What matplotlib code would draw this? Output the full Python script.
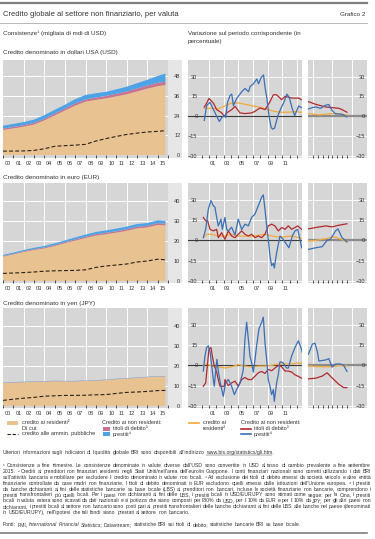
import numpy as np
import matplotlib
matplotlib.use("Agg")
import matplotlib.pyplot as plt
from matplotlib.patches import Rectangle
from matplotlib.lines import Line2D

plt.rcParams['font.family'] = ['Liberation Sans', 'DejaVu Sans']

W, H = 375, 539

GREY = '#d6d6d6'
STRIP = '#e6e6e6'
TAN = '#e8c391'
PINK = '#c8738f'
LBLUE = '#4da3e6'
ORANGE = '#f2a93b'
RED = '#b22a2e'
DBLUE = '#3b6fb6'
TEXT = '#333333'

# ---- stocks (thousand bn USD), year-end readings, last point 2015 Q3
stock_t = [2000, 2001, 2002, 2003, 2004, 2005, 2006, 2007, 2008, 2009,
           2010, 2011, 2012, 2013, 2014, 2015, 2015.75]
year_labels = ['00', '01', '02', '03', '04', '05', '06', '07', '08', '09',
               '10', '11', '12', '13', '14', '15']

usd_res = [15.2, 16.2, 17.2, 18.5, 21.0, 24.0, 27.0, 30.0, 32.4, 33.5, 34.4, 35.6, 36.9, 38.6, 40.3, 41.8, 42.5]
usd_debt = [0.8, 0.9, 0.9, 1.0, 1.0, 1.1, 1.2, 1.3, 1.3, 1.4, 1.5, 1.6, 1.7, 1.8, 1.9, 2.0, 2.0]
usd_loans = [1.8, 1.8, 1.9, 2.0, 2.2, 2.3, 2.3, 2.6, 2.8, 2.6, 2.5, 2.7, 2.9, 3.2, 3.5, 4.2, 5.0]
usd_gov = [2.4, 2.4, 2.5, 2.8, 3.8, 5.3, 5.7, 6.0, 6.5, 8.5, 10.0, 11.3, 12.5, 13.3, 14.0, 14.4, 14.8]

eur_res = [12.2, 13.3, 14.5, 15.5, 16.3, 17.5, 18.9, 20.2, 21.5, 22.7, 23.4, 24.2, 25.1, 26.3, 26.8, 28.0, 27.8]
eur_debt = [0.3, 0.3, 0.4, 0.4, 0.4, 0.5, 0.5, 0.6, 0.6, 0.7, 0.7, 0.7, 0.8, 0.8, 0.8, 0.9, 0.9]
eur_loans = [0.5, 0.6, 0.6, 0.7, 0.8, 0.8, 0.9, 1.0, 1.1, 1.1, 1.2, 1.3, 1.3, 1.4, 1.4, 1.4, 1.3]
eur_gov = [3.8, 4.0, 4.2, 4.5, 4.9, 5.1, 5.2, 5.3, 5.6, 6.8, 7.5, 8.0, 8.5, 9.5, 10.0, 10.9, 10.6]

jpy_res = [11.4, 11.7, 11.9, 12.1, 12.2, 12.4, 12.3, 12.3, 12.5, 12.7, 13.0, 13.4, 13.7, 14.0, 14.4, 14.7, 14.8]
jpy_debt = [0.1, 0.1, 0.1, 0.1, 0.1, 0.1, 0.1, 0.1, 0.1, 0.1, 0.1, 0.1, 0.1, 0.1, 0.1, 0.1, 0.1]
jpy_loans = [0.15, 0.15, 0.15, 0.15, 0.15, 0.15, 0.15, 0.15, 0.15, 0.15, 0.15, 0.15, 0.15, 0.15, 0.15, 0.15, 0.15]
jpy_gov = [2.8, 3.4, 3.9, 4.3, 4.9, 5.1, 5.3, 5.3, 5.4, 5.6, 5.7, 6.3, 6.8, 7.0, 7.3, 7.7, 7.8]

# ---- growth rates (%), long history 2000-2013
usd_res_t = [2000.36, 2001.36, 2002.27, 2003.41, 2004.11, 2005.02, 2005.93, 2006.82, 2008.19, 2009.1, 2010.0, 2010.91, 2011.82, 2012.73, 2013.6]
usd_res_g = [6, 6, 5.5, 8.5, 10, 10, 9, 8, 6.5, 5, 3.5, 3, 3, 3.5, 3]
usd_debt_t = [2000.36, 2000.68, 2001.0, 2001.59, 2002.05, 2002.74, 2003.1, 2003.41, 2004.11, 2004.56, 2005.23, 2005.93,
              2006.82, 2007.28, 2007.96, 2008.67, 2009.32, 2009.78, 2010.23, 2010.91, 2011.37, 2012.32, 2013.24, 2013.6]
usd_debt_g = [6.9, 9.8, 13.5, 10, 5, 2.5, 0, 2.5, 5, 7.5, 2.5, 2, 2.5, 3.7, 6.2, 5, 11, 16.2, 16.2, 12.5, 15, 13.7, 13.7, 12.5]
usd_loans_t = [2000.36, 2000.68, 2001.14, 2002.05, 2002.42, 2002.74, 2003.1, 2003.28, 2003.51, 2003.88, 2004.11, 2004.33,
               2004.79, 2005.47, 2005.93, 2006.39, 2006.62, 2007.07, 2007.53, 2007.76, 2008.12, 2008.44, 2008.67, 2008.9,
               2009.22, 2009.49, 2009.68, 2009.95, 2010.41, 2010.86, 2011.18, 2011.64, 2011.96, 2012.32, 2012.69, 2013.24, 2013.6]
usd_loans_g = [-3.2, 8, 10.5, 0, -4, -1, 0.5, -1, 10, 15.7, 16.7, 8, 13.5, 18.5, 21, 18.5, 22.5, 24.5, 28.2, 24.5, 29.3,
               31.2, 21, 13.5, -1, -8.6, -9.8, -9, 0.5, 6.5, 10, 16.7, 14, 6.5, 0.5, 7.8, 6.5]

eur_res_t = [2000.23, 2000.68, 2001.36, 2002.27, 2003.18, 2004.09, 2005.0, 2005.91, 2006.82, 2007.73, 2008.64, 2009.55,
             2010.46, 2011.37, 2012.28, 2013.19, 2013.64]
eur_res_g = [2, 4.5, 4.5, 3.2, 3.2, 4.5, 3.2, 3, 3.2, 3.7, 4.5, 3.2, 2.5, 2.7, 3.2, 2, 1.2]
eur_debt_t = [2000.23, 2000.55, 2000.82, 2001.14, 2001.59, 2002.05, 2002.27, 2002.73, 2003.18, 2003.64, 2004.09, 2004.55,
              2005.0, 2005.46, 2005.91, 2006.37, 2006.82, 2007.28, 2007.73, 2008.19, 2008.64, 2009.09, 2009.55, 2010.0,
              2010.46, 2010.91, 2011.37, 2011.82, 2012.28, 2012.73, 2013.1, 2013.64]
eur_debt_g = [17, 14.5, 14.5, 8.2, 7, 8.2, 2, 5.7, 0.7, 7, 3.2, 2, 4.5, 7, 4.5, 3.2, 4.5, 2, 3.2, 2, 4.5, 10.7, 12, 10.7,
              7, 9.5, 8.2, 10.7, 8.2, 9.5, 10.7, 8.2]
eur_loans_t = [2000.23, 2000.55, 2000.91, 2001.27, 2001.59, 2001.82, 2002.05, 2002.27, 2002.64, 2002.82, 2003.18, 2003.41,
               2003.64, 2004.09, 2004.55, 2005.0, 2005.46, 2005.91, 2006.37, 2006.82, 2007.28, 2007.73, 2008.19, 2008.41,
               2008.64, 2008.87, 2009.09, 2009.32, 2009.55, 2009.78, 2009.91, 2010.23, 2010.68, 2011.14, 2011.59, 2011.91,
               2012.36, 2012.73, 2013.1, 2013.41, 2013.64]
eur_loans_g = [2, 8.2, 23, 29.5, 25.7, 24.5, 17, 10.7, 15.7, 8.2, 17, 8.2, 7, 9.7, 4, 15.7, 8, 12, 10.7, 17, 19.5, 25.7,
               32, 33.7, 23, 10.7, 0.7, -11.7, -18.7, -17, -20.5, -9.2, 3.2, 0.7, -3, -5.5, 3.2, 7, 8.2, 0.7, -5.5]

jpy_res_t = [2000.23, 2000.68, 2001.36, 2002.27, 2003.18, 2004.09, 2005.0, 2005.91, 2006.82, 2007.73, 2008.64, 2009.55,
             2010.46, 2011.37, 2012.28, 2013.19, 2013.73]
jpy_res_g = [0, 1, -0.5, -1, -2, -1, 0.5, -0.5, -1.2, -0.5, -0.5, 0, 1, 1, 1, 1.7, 1.7]
jpy_debt_t = [2000.23, 2000.55, 2000.82, 2001.0, 2001.27, 2001.45, 2001.73, 2002.05, 2002.27, 2002.5, 2003.1, 2003.18,
              2003.64, 2004.09, 2004.55, 2005.0, 2005.46, 2005.91, 2006.37, 2006.82, 2007.28, 2007.73, 2008.19, 2008.64,
              2009.09, 2009.55, 2010.0, 2010.46, 2010.91, 2011.37, 2011.82, 2012.28, 2012.73, 2013.19, 2013.64]
jpy_debt_g = [-15.5, -13, 2, 12, 13.2, 7, -0.5, -5, -10.5, -15.5, -15.5, -10.5, -15, -13, -11.7, -15.5, -10.5, -9, -10.5,
              -10.5, -8, -5.5, -4.5, -6, -3, -4, -2, 0, -1, -4.2, -4.2, -5, -7, -8.2, -9.5]
jpy_loans_t = [2000.23, 2000.45, 2000.68, 2000.91, 2001.14, 2001.36, 2001.59, 2001.73, 2001.91, 2002.09, 2002.27, 2002.5,
               2002.95, 2003.27, 2003.64, 2004.09, 2004.46, 2004.77, 2005.23, 2005.55, 2005.68, 2005.91, 2006.14, 2006.37,
               2006.59, 2006.82, 2007.05, 2007.28, 2007.5, 2007.82, 2008.19, 2008.41, 2008.64, 2008.87, 2009.09, 2009.32,
               2009.55, 2009.78, 2009.91, 2010.23, 2010.46, 2010.68, 2010.91, 2011.14, 2011.59, 2011.82, 2012.28, 2012.73,
               2013.19, 2013.55, 2013.73]
jpy_loans_g = [-4.2, 7, 13.2, 14.5, 10.2, 0.7, -10.5, -15.5, -4.2, 4.5, -4.2, -11.7, -23, -13, -10.5, -15.5, -21.7, -18,
               -13, -6.7, -3, 19.5, 32, 19.5, 7, 2, -5, 4.5, 14.5, 27, 32, 35.7, 17, 4.5, -10.5, -15.5, -21.7, -18, -26.7,
               -13, -6.7, 2.5, 2.5, 1.7, -2, -2, 7, 13.2, 18.2, 13.2, 9.5]

# ---- growth rates (%), recent window 2013 Q4 - 2015 Q4
usd_res_rt = [2013.74, 2014.29, 2014.98, 2015.33, 2015.76]
usd_res_rg = [2, 1, 2, 2, 0.8]
usd_debt_rt = [2013.74, 2014.12, 2014.64, 2014.98, 2015.33, 2015.5, 2015.76]
usd_debt_rg = [11, 9, 7, 6.5, 6, 5, 3]
usd_loans_rt = [2013.74, 2013.95, 2014.12, 2014.38, 2014.64, 2014.81, 2014.98, 2015.16, 2015.5, 2015.76]
usd_loans_rg = [5.5, 6.5, 7, 6, 8.3, 8.8, 4.4, 1.8, 1.5, -0.5]

eur_res_rt = [2013.74, 2014.12, 2014.64, 2015.07, 2015.33, 2015.76]
eur_res_rg = [-0.3, 0, 1.2, 2.5, 1.5, -0.8]
eur_debt_rt = [2013.74, 2014.12, 2014.64, 2014.98, 2015.33, 2015.76]
eur_debt_rg = [8.5, 9.5, 10.7, 10, 11.2, 12.3]
eur_loans_rt = [2013.74, 2014.12, 2014.46, 2014.72, 2014.89, 2015.16, 2015.29, 2015.5, 2015.76]
eur_loans_rg = [-6.7, -5.5, -4.7, 0, 0.7, 7, 8.5, 2, -1.2]

jpy_res_rt = [2013.74, 2014.29, 2014.98, 2015.33, 2015.76]
jpy_res_rg = [-0.5, -1, -1, 0, -0.5]
jpy_debt_rt = [2013.74, 2014.12, 2014.46, 2014.72, 2014.89, 2015.07, 2015.33, 2015.59, 2015.76]
jpy_debt_rg = [-10, -9.5, -8, -5.5, -8, -10.5, -14, -16.5, -16.5]
jpy_loans_rt = [2013.74, 2013.95, 2014.08, 2014.21, 2014.29, 2014.64, 2014.81, 2014.98, 2015.16, 2015.41, 2015.59, 2015.76]
jpy_loans_rg = [8.2, 15.7, 16.5, 10.2, 3.2, 4, 5, -1.2, 1, 1, 0, -4.5]

hist_labels = ['01', '03', '05', '07', '09', '11']
recent_labels = ['2014', '2015']

fig = plt.figure(figsize=(W / 100, H / 100), dpi=100)
fig.patch.set_facecolor('white')

TICK = 4.0


def px_axes(x0, y0, x1, y1):
    return fig.add_axes([x0 / W, 1 - y1 / H, (x1 - x0) / W, (y1 - y0) / H])


def fy(y):
    return 1 - y / H


def clean(ax):
    for s in ax.spines.values():
        s.set_visible(False)


def stock_panel(y0, y1, res, debt, loans, gov, ylim, yticks):
    ax = px_axes(3, y0, 168, y1)
    fig.add_artist(Rectangle((168 / W, 1 - y1 / H), 14 / W, (y1 - y0) / H,
                             transform=fig.transFigure, color=STRIP, lw=0, zorder=-1))
    ax.set_facecolor(GREY)
    for g in range(2002, 2016, 2):
        ax.axvline(g, color='white', lw=0.7, zorder=0.5)
    for yt in yticks[1:]:
        ax.axhline(yt, color='white', lw=0.7, zorder=0.5)
    ax.stackplot(stock_t, res, debt, loans, colors=[TAN, PINK, LBLUE], lw=0, zorder=1)
    ax.plot(stock_t, gov, color='#2b2118', lw=0.8, dashes=(3.5, 2), zorder=2)
    ax.set_xlim(2000, 2016)
    ax.set_ylim(*ylim)
    ax.set_xticks(range(2000, 2017))
    ax.set_xticks(np.arange(2000.5, 2016, 1), labels=year_labels, minor=True)
    ax.tick_params(axis='x', which='major', direction='in', length=2.5, width=0.6,
                   color=TEXT, labelbottom=False)
    ax.tick_params(axis='x', which='minor', length=0, pad=2.5, labelsize=TICK, labelcolor=TEXT)
    ax.set_yticks(yticks)
    ax.yaxis.tick_right()
    ax.tick_params(axis='y', length=0, pad=8.8, labelsize=TICK, labelcolor=TEXT)
    for lab in ax.get_yticklabels():
        lab.set_ha('right')
    clean(ax)


def growth_panel(y0, y1, hist, recent):
    a1 = px_axes(188, y0, 302, y1)
    a2 = px_axes(308, y0, 367, y1)
    yt = [-30, -15, 0, 15, 30]
    for ax in (a1, a2):
        ax.set_facecolor(GREY)
        ax.set_ylim(-31.6, 42.5)
        ax.set_yticks(yt)
        for v in (-30, -15, 15, 30):
            ax.axhline(v, color='white', lw=0.6, zorder=0.5)
        clean(ax)
    for g in range(2001, 2014, 2):
        a1.axvline(g, color='white', lw=0.7, zorder=0.5)
    for g in (2014, 2015, 2016):
        a2.axvline(g, color='white', lw=0.7, zorder=0.5)
    a1.axhline(0, color='#3a3a3a', lw=0.8, zorder=1)
    a2.axhline(0, color='#8c8c8c', lw=1.6, zorder=1)
    for t, v, c in hist:
        a1.plot(t, v, color=c, lw=0.9, zorder=2)
    for t, v, c in recent:
        a2.plot(t, v, color=c, lw=0.9, zorder=2)
    a1.set_xlim(1998.14, 2013.69)
    a1.set_xticks(range(2000, 2014))
    a1.set_xticks(np.arange(2001.5, 2012, 2), labels=hist_labels, minor=True)
    a2.set_xlim(2013.72, 2016.81)
    a2.set_xticks(np.arange(2014, 2016, 0.25))
    a2.set_xticks([2014.5, 2015.5], labels=recent_labels, minor=True)
    for ax in (a1, a2):
        ax.tick_params(axis='x', which='major', direction='in', length=2.5, width=0.6,
                       color=TEXT, labelbottom=False)
        ax.tick_params(axis='x', which='minor', length=0, pad=2.5, labelsize=TICK, labelcolor=TEXT)
    a1.tick_params(axis='y', length=0, pad=-6.8, labelsize=TICK, labelcolor=TEXT)
    a2.yaxis.tick_right()
    a2.tick_params(axis='y', length=0, pad=-1.5, labelsize=TICK, labelcolor=TEXT)
    for lab in a2.get_yticklabels():
        lab.set_ha('right')


# ---- header
fig.add_artist(Line2D([0, 367 / W], [fy(3), fy(3)], color='#7f7f7f', lw=1.6))
fig.text(3 / W, fy(14), 'Credito globale al settore non finanziario, per valuta',
         fontsize=5.5, va='center', color=TEXT)
fig.text(365 / W, fy(14), 'Grafico 2', fontsize=4.5, va='center', ha='right', color=TEXT)
fig.add_artist(Line2D([0, 367 / W], [fy(23), fy(23)], color='#9a9a9a', lw=0.5))
fig.text(3 / W, fy(33), 'Consistenze¹ (migliaia di mdi di USD)', fontsize=4.5, va='center', color=TEXT)
fig.text(188 / W, fy(33), 'Variazione sul periodo corrispondente (in', fontsize=4.5, va='center', color=TEXT)
fig.text(188 / W, fy(41), 'percentuale)', fontsize=4.5, va='center', color=TEXT)

# ---- panels
fig.text(3 / W, fy(52.5), 'Credito denominato in dollari USA (USD)', fontsize=4.6, va='center', color=TEXT)
stock_panel(60, 158, usd_res, usd_debt, usd_loans, usd_gov, (-1.8, 57.7), [0, 12, 24, 36, 48])
growth_panel(60, 158,
             [(usd_res_t, usd_res_g, ORANGE), (usd_debt_t, usd_debt_g, RED), (usd_loans_t, usd_loans_g, DBLUE)],
             [(usd_res_rt, usd_res_rg, ORANGE), (usd_debt_rt, usd_debt_rg, RED), (usd_loans_rt, usd_loans_rg, DBLUE)])

fig.text(3 / W, fy(178), 'Credito denominato in euro (EUR)', fontsize=4.6, va='center', color=TEXT)
stock_panel(183, 283, eur_res, eur_debt, eur_loans, eur_gov, (-1, 49), [0, 10, 20, 30, 40])
growth_panel(183, 283,
             [(eur_res_t, eur_res_g, ORANGE), (eur_debt_t, eur_debt_g, RED), (eur_loans_t, eur_loans_g, DBLUE)],
             [(eur_res_rt, eur_res_rg, ORANGE), (eur_debt_rt, eur_debt_rg, RED), (eur_loans_rt, eur_loans_rg, DBLUE)])

fig.text(3 / W, fy(304), 'Credito denominato in yen (JPY)', fontsize=4.6, va='center', color=TEXT)
stock_panel(308, 408, jpy_res, jpy_debt, jpy_loans, jpy_gov, (-1, 49), [0, 10, 20, 30, 40])
growth_panel(308, 408,
             [(jpy_res_t, jpy_res_g, ORANGE), (jpy_debt_t, jpy_debt_g, RED), (jpy_loans_t, jpy_loans_g, DBLUE)],
             [(jpy_res_rt, jpy_res_rg, ORANGE), (jpy_debt_rt, jpy_debt_rg, RED), (jpy_loans_rt, jpy_loans_rg, DBLUE)])

# ---- legends
LS = 4.1


def swatch(x0, x1, y, color, h=4):
    fig.add_artist(Rectangle((x0 / W, fy(y + h / 2)), (x1 - x0) / W, h / H,
                             transform=fig.transFigure, color=color, lw=0))


def key_line(x0, x1, y, color, **kw):
    fig.add_artist(Line2D([x0 / W, x1 / W], [fy(y), fy(y)], color=color, **kw))


def label(x, y, s):
    fig.text(x / W, fy(y), s, fontsize=LS, va='center', color=TEXT)


swatch(7, 18, 423, TAN)
label(22, 423, 'credito ai residenti²')
label(22, 428.5, 'Di cui:')
key_line(7, 18, 434, '#2b2118', lw=0.8, dashes=(3, 1.6))
label(22, 434, 'credito alle ammin. pubbliche')
label(102, 423, 'Credito ai non residenti:')
swatch(103, 110, 428.5, PINK)
label(113, 428.5, 'titoli di debito³')
swatch(103, 110, 434, LBLUE)
label(113, 434, 'prestiti⁴')

key_line(189, 199, 423, ORANGE, lw=1.2)
label(203, 423, 'credito ai')
label(203, 428.5, 'residenti²')
label(241, 423, 'Credito ai non residenti:')
key_line(241, 251, 428.5, RED, lw=1.2)
label(254, 428.5, 'titoli di debito³')
key_line(241, 251, 434, DBLUE, lw=1.2)
label(254, 434, 'prestiti⁴')

# ---- footer text
renderer = fig.canvas.get_renderer()
FS = 3.7


def word_line(parts, x0, y, x1=None):
    # y is the baseline in pixels from the top
    arts = [fig.text(0, fy(y), w, fontsize=FS, style=st, va='baseline', color=TEXT) for w, st in parts]
    widths = [a.get_window_extent(renderer).width for a in arts]
    if x1 is None or len(arts) < 2:
        gap = FS * 100 / 72 * 0.28
    else:
        gap = (x1 - x0 - sum(widths)) / (len(arts) - 1)
    x = x0
    for a, wd in zip(arts, widths):
        a.set_x(x / W)
        x += wd + gap
    return arts


def plain(s):
    return [(w, 'normal') for w in s.split()]


info = word_line(plain("Ulteriori informazioni sugli indicatori di liquidità globale BRI sono disponibili "
                       "all'indirizzo www.bis.org/statistics/gli.htm."), 3, 454)
url = info[-1].get_window_extent(renderer)
fig.add_artist(Line2D([url.x0 / W, (url.x1 - 1.5) / W], [(url.y0 + 0.2) / H] * 2, color=TEXT, lw=0.3))

notes = [
    "¹ Consistenze a fine trimestre. Le consistenze denominate in valute diverse dall'USD sono convertite in USD al tasso di cambio prevalente a fine settembre",
    "2015. ² Crediti ai prenditori non finanziari residenti negli Stati Uniti/nell'area dell'euro/in Giappone. I conti finanziari nazionali sono corretti utilizzando i dati BRI",
    "sull'attività bancaria e mobiliare per escludere il credito denominato in valute non locali. ³ Ad esclusione dei titoli di debito emessi da società veicolo e altre entità",
    "finanziarie controllate da case madri non finanziarie. I titoli di debito denominati in EUR escludono quelli emessi dalle istituzioni dell'Unione europea. ⁴ I prestiti",
    "da banche dichiaranti ai fini delle statistiche bancarie su base locale (LBS) ai prenditori non bancari, incluse le società finanziarie non bancarie, comprendono i",
    "prestiti transfrontalieri più quelli locali. Per i paesi non dichiaranti ai fini delle LBS, i prestiti locali in USD/EUR/JPY sono stimati come segue: per la Cina, i prestiti",
    "locali in valuta estera sono ricavati da dati nazionali e si ipotizza che siano composti per l'80% da USD, per il 10% da EUR e per il 10% da JPY; per gli altri paesi non",
    "dichiaranti, i prestiti locali al settore non bancario sono posti pari ai prestiti transfrontalieri delle banche dichiaranti ai fini delle LBS alle banche nel paese (denominati",
    "in USD/EUR/JPY), nell'ipotesi che tali fondi siano prestati al settore non bancario.",
]
for i, line in enumerate(notes):
    word_line(plain(line), 3, 467 + i * 5.9, None if i == len(notes) - 1 else 371)

fonti = (plain("Fonti: FMI,") + [(w, 'italic') for w in "International Financial Statistics;".split()]
         + plain("Datastream; statistiche BRI sui titoli di debito; statistiche bancarie BRI su base locale."))
word_line(fonti, 3, 526)
fig.add_artist(Line2D([0, 367 / W], [fy(533), fy(533)], color='#7f7f7f', lw=1.2))

fig.savefig('out.png', dpi=100, facecolor='white')
